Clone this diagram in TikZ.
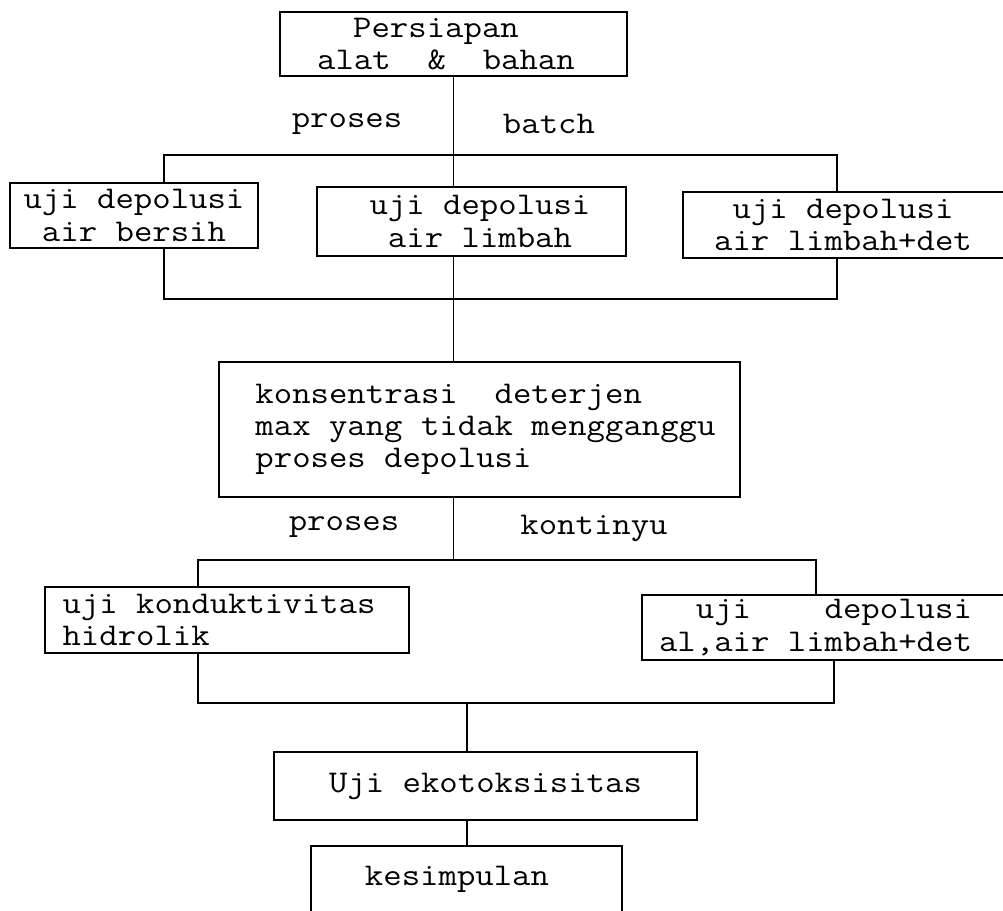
\documentclass[tikz,border=0pt]{standalone}
\usepackage{fontspec}
\newfontfamily\typew[FakeStretch=1.13]{Latin Modern Mono}
\newcommand\twfont{\typew\fontsize{18}{18.3}\selectfont}
\newcommand\pad[1]{\hspace*{#1}}
\begin{document}
\begin{tikzpicture}[x=0.02cm,y=-0.02cm,line width=1pt,
  txt/.style={font=\twfont, inner sep=0pt},
  box/.style={txt, draw, rectangle, align=center},
  openbox/.style={txt, rectangle, align=center},
  lbl/.style={txt}]
\useasboundingbox (0,0) rectangle (1003,911);

% boxes
\node[box, minimum width=6.94cm, minimum height=1.28cm] (prep) at (453.5,44) {Persiapan\pad{0.7cm}\\alat\ \ \&\ \ bahan\pad{0.3cm}};
\node[box, minimum width=4.96cm, minimum height=1.30cm] (bersih) at (134,215.5) {uji depolusi\\air bersih};
\node[box, minimum width=6.18cm, minimum height=1.38cm] (limbah) at (471.5,221.5) {\pad{0.34cm}uji depolusi\\\pad{0.34cm}air limbah};
\node[openbox, minimum width=6.40cm, minimum height=1.32cm] (limdet) at (843,225) {uji depolusi\\air limbah+det};
\node[box, minimum width=10.42cm, minimum height=2.70cm, align=left] (konsen) at (479.5,429.5) {\pad{0.24cm}konsentrasi\ \ deterjen\\\pad{0.24cm}max yang tidak mengganggu\\\pad{0.24cm}proses depolusi};
\node[box, minimum width=7.28cm, minimum height=1.32cm, align=left] (kond) at (227,620) {uji konduktivitas\pad{0.32cm}\\hidrolik};
\node[openbox, minimum width=7.18cm, minimum height=1.30cm, align=right] (aldet) at (821.5,627.5) {uji\ \ \ \ depolusi\pad{0.24cm}\\al,air limbah+det\pad{0.24cm}};
\node[box, minimum width=8.46cm, minimum height=1.36cm] (eko) at (485.5,786) {Uji ekotoksisitas};
\node[openbox, minimum width=6.18cm, minimum height=1.28cm] (simpul) at (466.5,879) {kesimpulan\pad{0.38cm}};

% open outlines of boxes cut by the page edge
\draw (1003,192) -- (683,192) -- (683,258) -- (1003,258);
\draw (1003,595) -- (642,595) -- (642,660) -- (1003,660);
\draw (simpul.south west) -- (simpul.north west) -- (simpul.north east) -- (simpul.south east);

% labels
\node[lbl] (lp1) at (347,124) {proses};
\node[lbl] (lb1) at (549,124) {batch};
\node[lbl] (lp2) at (344,527) {proses};
\node[lbl] (lk2) at (594,528) {kontinyu};

% connectors, first stage
\coordinate (tl) at (164,155);
\coordinate (tr) at (837,155);
\coordinate (bl) at (164,299);
\coordinate (br) at (837,299);
\draw (prep.south) -- (prep.south |- limbah.north);
\draw (tl |- bersih.north) -- (tl) -- (tr) -- (tr |- limdet.north);
\draw (bl |- bersih.south) -- (bl) -- (br) -- (br |- limdet.south);
\draw (limbah.south -| prep.south) -- (konsen.north -| prep.south);

% second stage
\coordinate (ml) at (198,560);
\coordinate (mr) at (816,560);
\coordinate (ll) at (198,703);
\coordinate (lr) at (834,703);
\coordinate (lc) at (467,703);
\draw (konsen.south -| prep.south) -- (prep.south |- ml);
\draw (ml |- kond.north) -- (ml) -- (mr) -- (mr |- aldet.north);
\draw (ll |- kond.south) -- (ll) -- (lr) -- (lr |- aldet.south);
\draw (lc) -- (lc |- eko.north);
\draw (eko.south -| lc) -- (simpul.north -| lc);
\end{tikzpicture}
\end{document}
